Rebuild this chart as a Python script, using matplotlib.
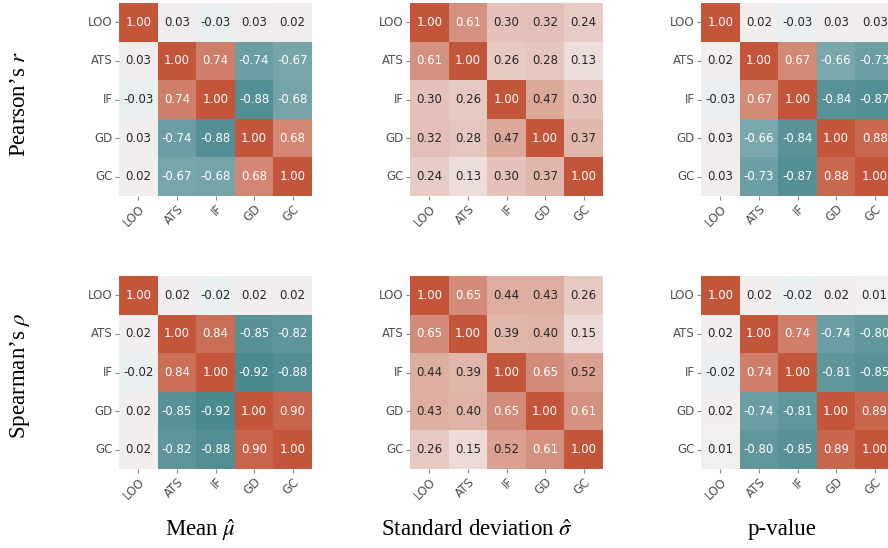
import matplotlib
matplotlib.use("Agg")
import matplotlib.pyplot as plt
import numpy as np
import seaborn as sns

# Métodos comparados
labels = ["LOO", "ATS", "IF", "GD", "GC"]

# Pearson: media, desviación estándar, p-value
pearson_mean = [
    [1.00, 0.03, -0.03, 0.03, 0.02],
    [0.03, 1.00, 0.74, -0.74, -0.67],
    [-0.03, 0.74, 1.00, -0.88, -0.68],
    [0.03, -0.74, -0.88, 1.00, 0.68],
    [0.02, -0.67, -0.68, 0.68, 1.00],
]
pearson_std = [
    [1.00, 0.61, 0.30, 0.32, 0.24],
    [0.61, 1.00, 0.26, 0.28, 0.13],
    [0.30, 0.26, 1.00, 0.47, 0.30],
    [0.32, 0.28, 0.47, 1.00, 0.37],
    [0.24, 0.13, 0.30, 0.37, 1.00],
]
pearson_p = [
    [1.00, 0.02, -0.03, 0.03, 0.03],
    [0.02, 1.00, 0.67, -0.66, -0.73],
    [-0.03, 0.67, 1.00, -0.84, -0.87],
    [0.03, -0.66, -0.84, 1.00, 0.88],
    [0.03, -0.73, -0.87, 0.88, 1.00],
]

# Spearman: media, desviación estándar, p-value
spearman_mean = [
    [1.00, 0.02, -0.02, 0.02, 0.02],
    [0.02, 1.00, 0.84, -0.85, -0.82],
    [-0.02, 0.84, 1.00, -0.92, -0.88],
    [0.02, -0.85, -0.92, 1.00, 0.90],
    [0.02, -0.82, -0.88, 0.90, 1.00],
]
spearman_std = [
    [1.00, 0.65, 0.44, 0.43, 0.26],
    [0.65, 1.00, 0.39, 0.40, 0.15],
    [0.44, 0.39, 1.00, 0.65, 0.52],
    [0.43, 0.40, 0.65, 1.00, 0.61],
    [0.26, 0.15, 0.52, 0.61, 1.00],
]
spearman_p = [
    [1.00, 0.02, -0.02, 0.02, 0.01],
    [0.02, 1.00, 0.74, -0.74, -0.80],
    [-0.02, 0.74, 1.00, -0.81, -0.85],
    [0.02, -0.74, -0.81, 1.00, 0.89],
    [0.01, -0.80, -0.85, 0.89, 1.00],
]

row_titles = ["Pearson\u2019s $r$", "Spearman\u2019s $\\rho$"]
col_titles = ["Mean $\\hat{\\mu}$", "Standard deviation $\\hat{\\sigma}$", "p-value"]
grid = [[pearson_mean, pearson_std, pearson_p],
        [spearman_mean, spearman_std, spearman_p]]

W, H = 888, 548
fig = plt.figure(figsize=(W / 100, H / 100), dpi=100)
plt.rcParams["mathtext.fontset"] = "stix"

cmap = sns.diverging_palette(200, 20, as_cmap=True)

# posiciones en pixeles (izquierda, arriba) de cada heatmap
col_x = [119, 410, 701]
row_y = [3, 276]
side = 193

for r in range(2):
    for c in range(3):
        x0, y0 = col_x[c], row_y[r]
        ax = fig.add_axes([x0 / W, (H - y0 - side) / H, side / W, side / H])
        sns.heatmap(np.array(grid[r][c]), ax=ax, cmap=cmap, vmin=-1, vmax=1,
                    annot=True, fmt=".2f", cbar=False, square=False,
                    xticklabels=labels, yticklabels=labels,
                    annot_kws={"fontsize": 8.5})
        ax.tick_params(axis="both", labelsize=8.5, length=3, width=0.8,
                       color="#888888", labelcolor="#505050", pad=1.5)
        ax.set_yticklabels(labels, rotation=0)
        ax.set_xticklabels(labels, rotation=45, ha="right", rotation_mode="anchor")

serif = {"family": "Liberation Serif", "size": 16.5}
row_centers = [104, 376]
for r, t in enumerate(row_titles):
    fig.text(20 / W, 1 - row_centers[r] / H, t, rotation=90, ha="center",
             va="center", fontdict=serif)

col_centers = [200, 477, 782]
for c, t in enumerate(col_titles):
    fig.text(col_centers[c] / W, 1 - 530 / H, t, ha="center", va="center",
             fontdict=serif)

fig.savefig("out.png", dpi=100)
